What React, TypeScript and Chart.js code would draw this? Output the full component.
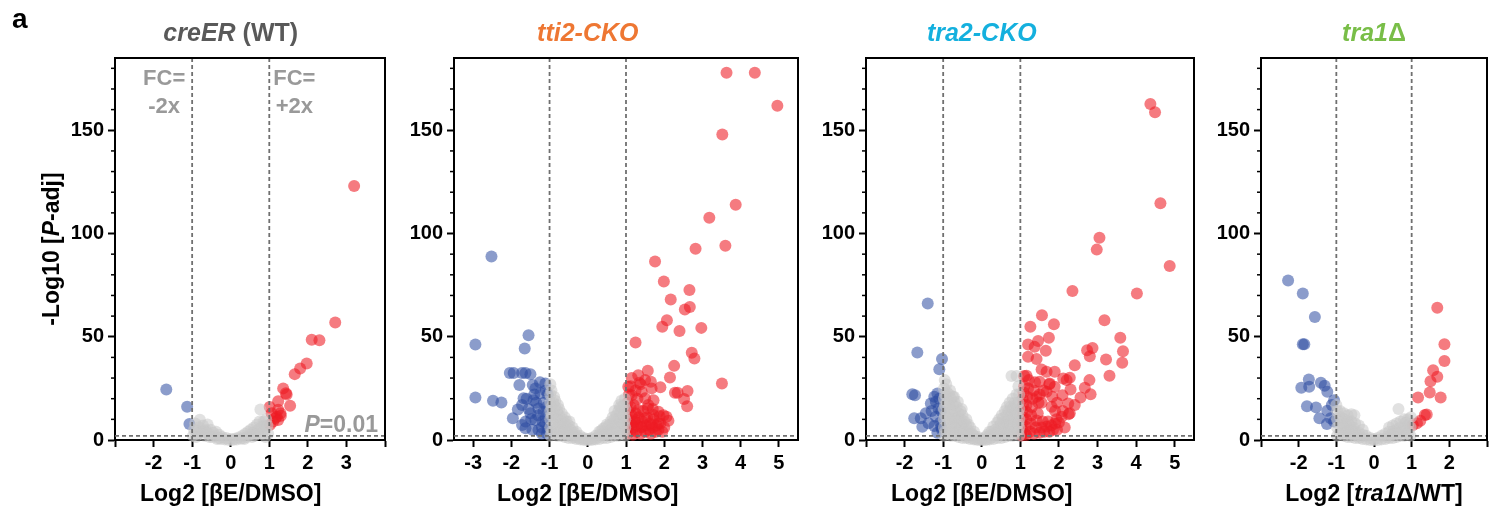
import { useEffect, useRef } from "react";
import { Chart, registerables } from "chart.js";

Chart.register(...registerables);

type Pt = [number, number];
type Seg = { t: string; i?: boolean };

// ---------- data: panel 1, creER (WT) ----------
const CREER_DOWN: Pt[] = [[-1.67, 24.5], [-1.13, 16.1], [-1.07, 7.7]];
const CREER_UP: Pt[] = [
  [3.2, 123], [2.71, 56.9], [2.1, 48.5], [2.3, 48.3], [1.97, 37], [1.8, 34.6], [1.66, 31.9],
  [1.36, 25], [1.43, 22.6], [1.45, 22], [1.23, 18.8], [1.54, 16.6], [1.01, 16], [1.23, 14.6],
  [1.29, 12.9], [1.06, 12.9], [1.19, 11.3], [1.1, 8.9], [1.02, 7.4], [1.23, 9.7], [1.3, 11.8], [1.15, 10.5],
];
const CREER_NS: Pt[] = [
  [-0.98, 2], [-0.95, 5], [-0.92, 8], [-0.85, 3], [-0.82, 6], [-0.8, 9.8], [-0.75, 4], [-0.72, 7],
  [-0.68, 2], [-0.65, 5], [-0.6, 7.5], [-0.58, 3], [-0.52, 5], [-0.48, 1.5], [-0.45, 3.5], [-0.4, 2],
  [-0.38, 4], [-0.32, 1], [-0.3, 2.5], [-0.25, 0.5], [-0.22, 1.5], [-0.15, 0.3], [-0.12, 1], [-0.05, 0],
  [0, 0.5], [0.05, 0], [0.1, 0.6], [0.15, 0.2], [0.2, 1.2], [0.25, 0.6], [0.3, 2], [0.33, 1], [0.38, 3],
  [0.42, 1.5], [0.45, 4], [0.5, 2.5], [0.52, 5], [0.58, 3.5], [0.6, 6], [0.65, 4], [0.68, 7.5], [0.72, 5],
  [0.75, 9], [0.77, 14.8], [0.8, 6.5], [0.82, 3], [0.85, 9], [0.88, 5], [0.92, 10], [0.95, 7], [0.97, 3],
  [0.9, 1.5], [-0.9, 1.5], [-0.88, 4.5], [-0.7, 4.5], [-0.55, 1.5], [0.55, 1.5], [0.7, 3], [0.87, 7],
  [-0.35, 0.5], [0.35, 0.5], [0.62, 2], [-0.62, 3.5],
];

// ---------- data: panel 2, tti2-CKO ----------
const TTI2_DOWN: Pt[] = [
  [-2.52, 88.9], [-2.94, 46.3], [-1.55, 50.7], [-1.65, 44.3], [-2.94, 20.6], [-2.48, 19], [-2.26, 18.2],
  [-2.04, 32.5], [-1.94, 32.5], [-1.72, 32.5], [-1.63, 32.5], [-1.5, 31.9], [-1.79, 26.6], [-1.44, 26.6],
  [-1.11, 27.4], [-1.37, 25], [-1.24, 22.6], [-1.68, 20.2], [-1.42, 19.3], [-1.72, 16.9], [-1.83, 14.8],
  [-1.29, 15.3], [-1.5, 12.9], [-1.16, 13.7], [-1.96, 10.5], [-1.63, 8.9], [-1.37, 9.7], [-1.11, 8.1],
  [-1.72, 7.3], [-1.63, 5.7], [-1.29, 4.8], [-1.07, 3.2], [-1.05, 5], [-1.1, 11], [-1.2, 6], [-1.15, 18],
  [-1.05, 22], [-1.3, 12], [-1.45, 5], [-1.2, 3], [-1.55, 15], [-1.35, 18], [-1.1, 24], [-1.25, 28],
  [-1.4, 22], [-1.6, 20], [-1.48, 10], [-1.08, 16], [-1.18, 9],
];
const TTI2_UP: Pt[] = [
  [3.63, 177.9], [4.37, 177.9], [4.96, 161.9], [3.52, 147.9], [3.87, 113.9], [3.18, 107.6], [3.6, 94.1],
  [2.82, 92.6], [1.76, 86.5], [1.99, 76.8], [2.66, 72.6], [2.17, 68.1], [2.67, 64.4], [2.54, 63.2],
  [2.07, 58], [1.95, 54.8], [2.97, 54.3], [2.4, 52.8], [1.25, 47.2], [2.72, 42.2], [2.79, 39.5],
  [2.26, 35.9], [2.15, 30.3], [3.51, 27.4], [1.9, 25.5], [2.35, 22.9], [2.28, 22.9], [2.61, 23.7],
  [2.52, 19.8], [2.6, 16.4], [2.11, 9.3], [1.57, 33.5], [1.32, 31.4], [1.5, 29], [1.35, 27.7], [1.65, 28.2],
  [1.06, 25.8], [1.67, 25], [1.41, 23.4], [1.15, 21.7], [1.5, 20.2], [1.72, 19.3], [1.85, 13.7],
  [2.06, 11.3], [1.57, 15.3], [1.32, 14.5], [1.72, 12.1], [1.5, 10.5], [1.24, 9.7], [1.67, 7.3],
  [1.41, 6.4], [1.15, 7.3], [1.85, 8.1],
  [1.02, 3], [1.05, 6], [1.03, 10], [1.06, 14], [1.04, 18], [1.08, 22], [1.1, 4], [1.12, 8], [1.15, 12],
  [1.12, 16], [1.18, 2.5], [1.2, 6], [1.22, 9], [1.25, 13], [1.2, 17], [1.28, 4], [1.3, 7], [1.33, 11],
  [1.3, 20], [1.38, 3], [1.4, 6], [1.42, 9], [1.45, 14], [1.5, 4], [1.52, 7], [1.55, 11], [1.58, 17],
  [1.6, 5], [1.63, 8], [1.65, 3], [1.7, 6], [1.72, 10], [1.78, 4], [1.8, 7], [1.85, 5], [1.9, 8],
  [1.95, 4], [2.0, 6], [1.12, 26], [1.25, 24], [1.38, 27], [1.15, 30], [1.7, 15], [1.88, 11.5], [1.98, 12],
];
const TTI2_NS: Pt[] = [
  [-0.98, 2], [-0.98, 6], [-0.98, 10], [-0.98, 14], [-0.98, 18], [-0.98, 22], [-0.98, 27],
  [-0.9, 3], [-0.9, 8], [-0.9, 13], [-0.9, 18], [-0.88, 21],
  [-0.8, 2], [-0.8, 6], [-0.8, 10], [-0.8, 14], [-0.78, 17],
  [-0.7, 2], [-0.7, 5], [-0.7, 9], [-0.68, 13],
  [-0.6, 1.5], [-0.6, 5], [-0.6, 8], [-0.6, 11],
  [-0.5, 1], [-0.5, 4], [-0.5, 7], [-0.48, 9],
  [-0.4, 1], [-0.4, 3], [-0.4, 6],
  [-0.3, 0.5], [-0.3, 2], [-0.3, 4],
  [-0.2, 0.3], [-0.2, 2], [-0.1, 0], [-0.1, 1], [0, 0], [0, 0.5], [0.1, 0], [0.1, 1],
  [0.2, 0.3], [0.2, 2], [0.3, 0.5], [0.3, 2.5], [0.3, 4],
  [0.4, 1], [0.4, 3], [0.4, 5.5], [0.5, 1], [0.5, 4], [0.5, 7.5],
  [0.6, 1.5], [0.6, 5], [0.6, 9], [0.7, 2], [0.7, 6], [0.7, 10], [0.7, 14],
  [0.8, 2], [0.8, 6], [0.8, 10], [0.8, 14], [0.82, 17],
  [0.9, 3], [0.9, 8], [0.9, 12], [0.9, 16], [0.88, 19],
  [0.98, 2], [0.98, 6], [0.98, 10], [0.98, 15], [0.97, 20],
  [-0.95, 4], [-0.95, 12], [-0.95, 16], [-0.95, 24], [-0.85, 5], [-0.85, 11], [-0.85, 16], [-0.85, 19],
  [-0.75, 4], [-0.75, 8], [-0.75, 12], [-0.75, 15], [-0.65, 3.5], [-0.65, 7], [-0.65, 10], [-0.55, 2.5],
  [-0.55, 6], [-0.55, 9], [-0.45, 2], [-0.45, 5], [-0.35, 1.5], [-0.35, 3.5], [-0.25, 1], [-0.15, 0.5],
  [-0.05, 0.3], [0.05, 0.3], [0.15, 0.5], [0.25, 1.2], [0.35, 2], [0.35, 4.5], [0.45, 2.5], [0.45, 6],
  [0.55, 3], [0.55, 7], [0.65, 3.5], [0.65, 8], [0.65, 11], [0.75, 4], [0.75, 8], [0.75, 12],
  [0.85, 4], [0.85, 9], [0.85, 13], [0.85, 16], [0.95, 4], [0.95, 8], [0.95, 12], [0.95, 17],
];

// ---------- data: panel 3, tra2-CKO ----------
const TRA2_DOWN: Pt[] = [
  [-1.4, 66.1], [-1.67, 42.4], [-1.03, 39.2], [-1.1, 34.3], [-1.8, 22.1], [-1.73, 21.7], [-1.23, 20.9],
  [-1.19, 18.5], [-1.32, 17.7], [-1.12, 15.3], [-1.45, 12.9], [-1.75, 10.5], [-1.58, 10.5], [-1.19, 11.3],
  [-1.54, 6.4], [-1.23, 6.8], [-1.15, 3.5], [-1.38, 8.1], [-1.08, 8.4], [-1.03, 4.8],
  [-1.05, 14], [-1.1, 20], [-1.15, 22.5], [-1.3, 14], [-1.05, 6],
];
const TRA2_UP: Pt[] = [
  [4.37, 162.7], [4.49, 158.7], [4.63, 114.7], [3.05, 98], [2.98, 92.2], [4.87, 84.3], [2.35, 72.2],
  [4.02, 70.9], [1.56, 60.4], [1.87, 56.1], [1.26, 54.8], [3.18, 58], [1.74, 49.5], [1.46, 48],
  [1.2, 46.2], [3.59, 49.5], [1.37, 45.1], [1.66, 43.2], [2.73, 43.5], [2.87, 44.6], [3.66, 43],
  [2.8, 40.6], [1.2, 40.3], [1.42, 39.2], [3.22, 39], [3.64, 37.4], [2.41, 36.2], [1.55, 34.2],
  [1.68, 33], [1.89, 33], [3.31, 31.1], [2.79, 29], [2.82, 22.1], [2.67, 25.3], [1.16, 31.1],
  [2.11, 29.8], [2.28, 30.1], [2.2, 29], [2.56, 20.6], [2.41, 16.9], [2.28, 12.9], [2.07, 11.3],
  [1.94, 10], [2.24, 17.7], [2.09, 21.7], [2.3, 24.5], [1.83, 20.9], [1.68, 23.4], [1.81, 16.1],
  [1.76, 27.4], [1.89, 25.8], [1.5, 28.2], [1.42, 20.9],
  [1.02, 2.5], [1.05, 5], [1.04, 8], [1.06, 11], [1.05, 14], [1.07, 17], [1.06, 20], [1.08, 23],
  [1.1, 26], [1.12, 3], [1.14, 6.5], [1.15, 10], [1.17, 13.5], [1.16, 17], [1.18, 21], [1.2, 25],
  [1.22, 29], [1.1, 31], [1.25, 4], [1.27, 8], [1.28, 12], [1.3, 16], [1.32, 20], [1.35, 24],
  [1.38, 28], [1.35, 3], [1.4, 6], [1.42, 9.5], [1.45, 13], [1.47, 18], [1.5, 22], [1.5, 3.5],
  [1.55, 6], [1.58, 9], [1.62, 4], [1.68, 6.5], [1.72, 9], [1.75, 4], [1.8, 7], [1.85, 5], [1.9, 8],
  [1.95, 5], [2.0, 8.5], [1.55, 18], [1.6, 24], [1.75, 27], [1.9, 14], [2.1, 14], [1.95, 18],
  [2.25, 12.5], [2.15, 6], [1.03, 2.2], [1.15, 2.4],
];
const TRA2_NS: Pt[] = [
  [-0.98, 2], [-0.98, 6], [-0.98, 10], [-0.98, 15], [-0.98, 20], [-0.98, 25], [-0.96, 29],
  [-0.9, 3], [-0.9, 8], [-0.9, 13], [-0.9, 18], [-0.9, 23], [-0.92, 27],
  [-0.8, 2], [-0.8, 6], [-0.8, 10], [-0.8, 15], [-0.8, 20], [-0.82, 24],
  [-0.7, 2], [-0.7, 6], [-0.7, 10], [-0.7, 14], [-0.7, 18], [-0.72, 21],
  [-0.6, 1.5], [-0.6, 5], [-0.6, 9], [-0.6, 13], [-0.62, 18.5],
  [-0.5, 1], [-0.5, 4], [-0.5, 8], [-0.5, 12], [-0.52, 15],
  [-0.4, 1], [-0.4, 3.5], [-0.4, 7], [-0.4, 10],
  [-0.3, 0.5], [-0.3, 3], [-0.3, 6], [-0.2, 0.3], [-0.2, 2], [-0.2, 4],
  [-0.1, 0], [-0.1, 1.5], [0, 0], [0, 0.5], [0.1, 0], [0.1, 1.5],
  [0.2, 0.3], [0.2, 2], [0.2, 4], [0.3, 0.5], [0.3, 3], [0.3, 6.5],
  [0.4, 1], [0.4, 4], [0.4, 8.5], [0.5, 1], [0.5, 4.5], [0.5, 8], [0.52, 12],
  [0.6, 1.5], [0.6, 5], [0.6, 9], [0.6, 14], [0.7, 2], [0.7, 6], [0.7, 10], [0.7, 14], [0.72, 18],
  [0.8, 2], [0.8, 6], [0.8, 10], [0.8, 15], [0.8, 20], [0.77, 31],
  [0.9, 3], [0.9, 7], [0.9, 12], [0.9, 17], [0.9, 22], [0.9, 31],
  [0.97, 2], [0.97, 6], [0.97, 10], [0.97, 15], [0.97, 22],
  [-0.95, 4], [-0.95, 12], [-0.95, 17], [-0.95, 22], [-0.85, 5], [-0.85, 11], [-0.85, 17], [-0.85, 22],
  [-0.75, 4], [-0.75, 8], [-0.75, 12], [-0.75, 17], [-0.75, 21], [-0.65, 3.5], [-0.65, 7], [-0.65, 11],
  [-0.65, 16], [-0.55, 2.5], [-0.55, 6], [-0.55, 10], [-0.55, 14], [-0.45, 2], [-0.45, 5], [-0.45, 9],
  [-0.35, 1.5], [-0.35, 4.5], [-0.35, 7.5], [-0.25, 1], [-0.25, 3], [-0.15, 0.5], [-0.05, 0.3],
  [0.05, 0.3], [0.15, 0.5], [0.15, 2.5], [0.25, 1.2], [0.25, 4], [0.35, 2], [0.35, 5], [0.45, 2.5],
  [0.45, 6.5], [0.45, 10], [0.55, 3], [0.55, 7], [0.55, 10.5], [0.65, 3.5], [0.65, 8], [0.65, 12],
  [0.65, 16], [0.75, 4], [0.75, 8], [0.75, 12], [0.75, 16], [0.85, 4], [0.85, 9], [0.85, 13], [0.85, 18],
  [0.95, 4], [0.95, 8], [0.95, 13], [0.95, 18], [0.95, 26],
];

// ---------- data: panel 4, tra1Δ ----------
const TRA1_DOWN: Pt[] = [
  [-2.28, 77.3], [-1.89, 70.9], [-1.57, 59.6], [-1.89, 46.4], [-1.85, 46.4], [-1.73, 29.3],
  [-1.93, 25.3], [-1.72, 25.8], [-1.41, 27.7], [-1.31, 26.3], [-1.24, 23.4], [-1.78, 16.4],
  [-1.54, 15.8], [-1.06, 19.3], [-1.12, 16.9], [-1.24, 14.2], [-1.45, 10.5], [-1.15, 10.5],
  [-1.25, 7.7], [-1.06, 8.9],
];
const TRA1_UP: Pt[] = [
  [1.68, 64.1], [1.87, 46.4], [1.87, 38.3], [1.57, 33.8], [1.68, 30.6], [1.5, 28.5], [1.48, 23],
  [1.77, 20.6], [1.17, 20.6], [1.4, 12.4], [1.35, 12.1], [1.23, 9.3], [1.14, 8.1], [1.03, 7.3],
];
const TRA1_NS: Pt[] = [
  [-0.98, 2], [-0.98, 6], [-0.98, 10], [-0.98, 14], [-1.0, 17],
  [-0.9, 3], [-0.9, 7], [-0.9, 11], [-0.9, 14],
  [-0.8, 2], [-0.8, 6], [-0.8, 10], [-0.8, 13],
  [-0.7, 1.5], [-0.7, 5], [-0.7, 9], [-0.7, 12],
  [-0.6, 1.5], [-0.6, 5], [-0.6, 9], [-0.6, 12.5],
  [-0.5, 1], [-0.5, 4], [-0.5, 8], [-0.52, 12],
  [-0.4, 1], [-0.4, 3.5], [-0.4, 7], [-0.3, 0.5], [-0.3, 2.5], [-0.3, 5],
  [-0.2, 0.3], [-0.2, 2], [-0.1, 0], [-0.1, 1], [0, 0], [0, 0.5], [0.1, 0], [0.1, 1],
  [0.2, 0.3], [0.2, 2], [0.3, 0.5], [0.3, 3], [0.4, 1], [0.4, 4], [0.4, 6],
  [0.5, 1], [0.5, 4], [0.5, 7], [0.6, 1.5], [0.6, 5], [0.6, 8], [0.65, 15],
  [0.7, 2], [0.7, 6], [0.7, 9], [0.8, 2], [0.8, 6], [0.8, 10],
  [0.9, 3], [0.9, 7], [0.9, 10], [0.97, 2], [0.97, 6], [0.98, 11],
  [-0.85, 4.5], [-0.85, 8.5], [-0.75, 3.5], [-0.75, 7.5], [-0.65, 3.5], [-0.65, 7], [-0.55, 2.5],
  [-0.55, 6], [-0.45, 2], [-0.35, 1.5], [0.35, 1.5], [0.45, 2.5], [0.55, 3], [0.65, 3.5], [0.75, 4],
  [0.85, 4.5], [0.85, 8.5],
];

// ---------- axes / ticks ----------
const Y_MAJOR = [0, 50, 100, 150];
const Y_MINOR = [10, 20, 30, 40, 60, 70, 80, 90, 110, 120, 130, 140, 160, 170, 180];
const Y_MAX = 185;
const FC_LINES = [-1, 1];
const P_LINE = 2; // -log10(0.01)

const P1_X_TICKS = [-3, -2, -1, 0, 1, 2, 3, 4];
const P1_X_LABELS = [-2, -1, 0, 1, 2, 3];
const P2_X_TICKS = [-3, -2, -1, 0, 1, 2, 3, 4, 5];
const P2_X_LABELS = [-3, -2, -1, 0, 1, 2, 3, 4, 5];
const P3_X_TICKS = [-3, -2, -1, 0, 1, 2, 3, 4, 5];
const P3_X_LABELS = [-2, -1, 0, 1, 2, 3, 4, 5];
const P4_X_TICKS = [-3, -2, -1, 0, 1, 2, 3];
const P4_X_LABELS = [-2, -1, 0, 1, 2];

const FONT = "'Liberation Sans', Arial, Helvetica, sans-serif";
const GRAY = "rgba(200,200,200,0.55)";
const BLUE = "rgba(44,75,160,0.55)";
const RED = "rgba(237,28,36,0.58)";
const R = 6;

type PanelCfg = {
  left: number; width: number; axisW: number; padRight: number;
  xMin: number; xMax: number; xTicks: number[]; xLabels: number[];
  ns: Pt[]; down: Pt[]; up: Pt[];
  title: Seg[]; titleColor: string; xTitle: Seg[]; first?: boolean;
};

const BE_TITLE: Seg[] = [{ t: "Log2 [βE/DMSO]" }];

const PANELS: PanelCfg[] = [
  {
    left: 0, width: 400, axisW: 115, padRight: 15, xMin: -3, xMax: 4,
    xTicks: P1_X_TICKS, xLabels: P1_X_LABELS, ns: CREER_NS, down: CREER_DOWN, up: CREER_UP,
    title: [{ t: "creER", i: true }, { t: " (WT)" }], titleColor: "#595959", xTitle: BE_TITLE, first: true,
  },
  {
    left: 400, width: 410, axisW: 54, padRight: 12, xMin: -3.5, xMax: 5.5,
    xTicks: P2_X_TICKS, xLabels: P2_X_LABELS, ns: TTI2_NS, down: TTI2_DOWN, up: TTI2_UP,
    title: [{ t: "tti2-CKO", i: true }], titleColor: "#EE7733", xTitle: BE_TITLE,
  },
  {
    left: 810, width: 390, axisW: 56, padRight: 6, xMin: -3, xMax: 5.5,
    xTicks: P3_X_TICKS, xLabels: P3_X_LABELS, ns: TRA2_NS, down: TRA2_DOWN, up: TRA2_UP,
    title: [{ t: "tra2-CKO", i: true }], titleColor: "#14B0DE", xTitle: BE_TITLE,
  },
  {
    left: 1200, width: 291, axisW: 61, padRight: 1, xMin: -3, xMax: 3,
    xTicks: P4_X_TICKS, xLabels: P4_X_LABELS, ns: TRA1_NS, down: TRA1_DOWN, up: TRA1_UP,
    title: [{ t: "tra1", i: true }, { t: "Δ" }], titleColor: "#79BE48",
    xTitle: [{ t: "Log2 [" }, { t: "tra1", i: true }, { t: "Δ/WT]" }],
  },
];

function segFont(s: Seg, size: number) {
  return `${s.i ? "italic " : ""}bold ${size}px ${FONT}`;
}

function drawRich(ctx: CanvasRenderingContext2D, segs: Seg[], x: number, y: number, size: number, color: string, align: "left" | "center" | "right") {
  let w = 0;
  for (const s of segs) { ctx.font = segFont(s, size); w += ctx.measureText(s.t).width; }
  let cx = align === "center" ? x - w / 2 : align === "right" ? x - w : x;
  ctx.fillStyle = color;
  ctx.textAlign = "left";
  for (const s of segs) {
    ctx.font = segFont(s, size);
    ctx.fillText(s.t, cx, y);
    cx += ctx.measureText(s.t).width;
  }
}

function Panel({ cfg }: { cfg: PanelCfg }) {
  const ref = useRef<HTMLCanvasElement>(null);
  useEffect(() => {
    if (!ref.current) return;
    const overlay = {
      id: "overlay",
      afterDatasetsDraw(chart: any) {
        const { ctx, chartArea: a, scales } = chart;
        const x = scales.x, y = scales.y;
        const line = (x1: number, y1: number, x2: number, y2: number) => {
          ctx.beginPath(); ctx.moveTo(x1, y1); ctx.lineTo(x2, y2); ctx.stroke();
        };
        ctx.save();
        ctx.strokeStyle = "#707070";
        ctx.lineWidth = 1.8;
        ctx.setLineDash([4, 3]);
        for (const v of FC_LINES) { const px = x.getPixelForValue(v); line(px, a.top, px, a.bottom); }
        const py = y.getPixelForValue(P_LINE);
        line(a.left, py, a.right, py);
        ctx.setLineDash([]);
        ctx.strokeStyle = "#000";
        ctx.lineWidth = 2;
        ctx.beginPath(); ctx.moveTo(a.left - 1, a.top); ctx.lineTo(a.right, a.top); ctx.lineTo(a.right, a.bottom + 1); ctx.stroke();
        ctx.lineWidth = 1.5;
        for (const v of Y_MINOR) { const p = y.getPixelForValue(v); line(a.left - 4, p, a.left, p); }
        const x0 = x.getPixelForValue(0);
        ctx.textBaseline = "alphabetic";
        drawRich(ctx, cfg.title, x0, 41, 25, cfg.titleColor, "center");
        drawRich(ctx, cfg.xTitle, x0, 501, 23, "#000", "center");
        if (cfg.first) {
          drawRich(ctx, [{ t: "a" }], 12, 28, 28, "#000", "left");
          const lx = x.getPixelForValue(-1) - 28;
          const rx = x.getPixelForValue(1) + 25;
          drawRich(ctx, [{ t: "FC=" }], lx, 85, 22, "#999", "center");
          drawRich(ctx, [{ t: "-2x" }], lx, 113, 22, "#999", "center");
          drawRich(ctx, [{ t: "FC=" }], rx, 85, 22, "#999", "center");
          drawRich(ctx, [{ t: "+2x" }], rx, 113, 22, "#999", "center");
          drawRich(ctx, [{ t: "P", i: true }, { t: "=0.01" }], a.right - 7, 432, 23, "#999", "right");
          ctx.save();
          ctx.translate(53, (a.top + a.bottom) / 2);
          ctx.rotate(-Math.PI / 2);
          ctx.textBaseline = "middle";
          drawRich(ctx, [{ t: "-Log10 [" }, { t: "P", i: true }, { t: "-adj]" }], 0, 0, 23, "#000", "center");
          ctx.restore();
        }
        ctx.restore();
      },
    };
    const toXY = (arr: Pt[]) => arr.map(([px, py]) => ({ x: px, y: py }));
    const ds = (arr: Pt[], color: string) => ({
      data: toXY(arr), backgroundColor: color, borderWidth: 0, pointRadius: R, pointHoverRadius: R, clip: false as any,
    });
    const tickFont = { family: FONT, size: 20, weight: "bold" as const };
    const chart = new Chart(ref.current, {
      type: "scatter",
      data: { datasets: [ds(cfg.ns, GRAY), ds(cfg.down, BLUE), ds(cfg.up, RED)] as any },
      options: {
        responsive: false,
        animation: false,
        devicePixelRatio: 1,
        events: [],
        layout: { autoPadding: false, padding: { left: 0, right: cfg.padRight, top: 58, bottom: 0 } },
        plugins: { legend: { display: false }, tooltip: { enabled: false } },
        scales: {
          x: {
            type: "linear", min: cfg.xMin, max: cfg.xMax,
            afterFit: (s: any) => { s.height = 71; },
            afterBuildTicks: (s: any) => { s.ticks = cfg.xTicks.map((v) => ({ value: v })); },
            ticks: {
              autoSkip: false, maxRotation: 0, padding: 4, color: "#000", font: tickFont,
              callback: (v: any) => (cfg.xLabels.includes(Number(v)) ? String(v) : ""),
            },
            grid: { drawOnChartArea: false, drawTicks: true, tickLength: 7, tickWidth: 2, tickColor: "#000" },
            border: { display: true, color: "#000", width: 2 },
          },
          y: {
            type: "linear", min: 0, max: Y_MAX,
            afterFit: (s: any) => { s.width = cfg.axisW; },
            afterBuildTicks: (s: any) => { s.ticks = Y_MAJOR.map((v) => ({ value: v })); },
            ticks: { autoSkip: false, padding: 4, color: "#000", font: tickFont, callback: (v: any) => String(v) },
            grid: { drawOnChartArea: false, drawTicks: true, tickLength: 7, tickWidth: 2, tickColor: "#000" },
            border: { display: true, color: "#000", width: 2 },
          },
        },
      } as any,
      plugins: [overlay],
    });
    return () => chart.destroy();
  }, [cfg]);
  return (
    <canvas
      ref={ref}
      width={cfg.width}
      height={511}
      style={{ position: "absolute", left: cfg.left, top: 0, width: cfg.width, height: 511 }}
    />
  );
}

export default function App() {
  return (
    <div style={{ position: "absolute", left: 0, top: 0, width: 1491, height: 511, background: "#fff", overflow: "hidden" }}>
      {PANELS.map((p, i) => (
        <Panel key={i} cfg={p} />
      ))}
    </div>
  );
}
